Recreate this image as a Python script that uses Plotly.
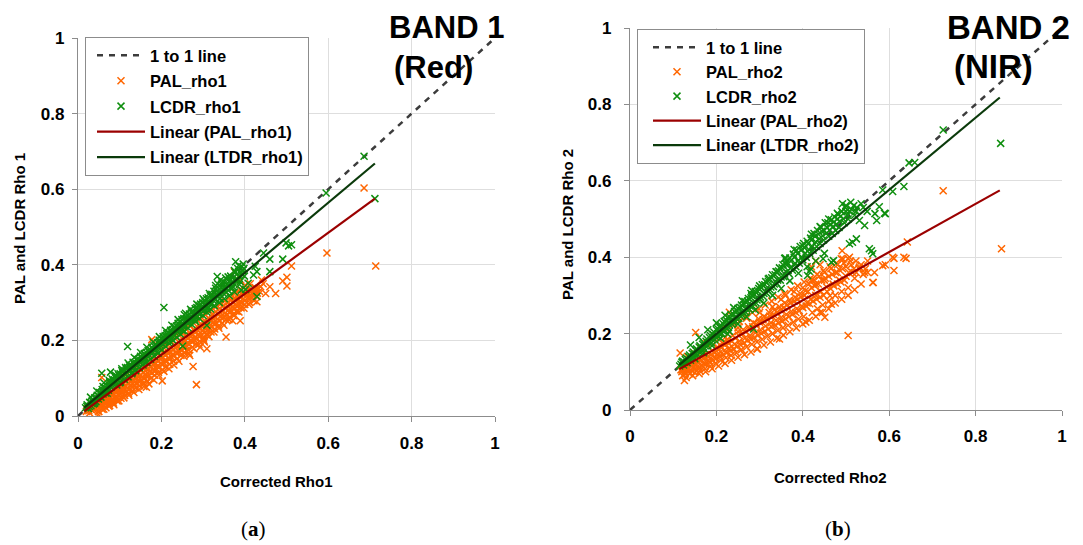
import plotly.graph_objects as go

# ---------------- values ----------------
one_to_one = [0, 1]

# panel (a) BAND 1 (Red): corrected rho1 vs PAL / LCDR rho1
pal_rho1 = [
    (0.02, 0.012), (0.024, 0.02), (0.028, 0.008), (0.031, 0.026), (0.034, 0.015), (0.037, 0.03),
    (0.04, 0.02), (0.043, 0.036), (0.046, 0.025), (0.049, 0.012), (0.052, 0.04), (0.055, 0.03),
    (0.058, 0.018), (0.061, 0.046), (0.064, 0.034), (0.067, 0.022), (0.07, 0.052), (0.073, 0.04),
    (0.076, 0.028), (0.079, 0.06), (0.082, 0.046), (0.085, 0.034), (0.088, 0.066), (0.091, 0.052),
    (0.094, 0.04), (0.097, 0.075), (0.1, 0.06), (0.103, 0.047), (0.106, 0.082), (0.109, 0.068),
    (0.112, 0.054), (0.115, 0.09), (0.118, 0.074), (0.121, 0.06), (0.124, 0.098), (0.127, 0.082),
    (0.13, 0.067), (0.133, 0.105), (0.136, 0.09), (0.139, 0.074), (0.142, 0.112), (0.145, 0.096),
    (0.148, 0.08), (0.151, 0.12), (0.154, 0.103), (0.157, 0.087), (0.16, 0.128), (0.163, 0.11),
    (0.166, 0.093), (0.169, 0.135), (0.172, 0.118), (0.175, 0.1), (0.178, 0.142), (0.181, 0.125),
    (0.184, 0.108), (0.187, 0.15), (0.19, 0.132), (0.193, 0.115), (0.196, 0.158), (0.199, 0.14),
    (0.202, 0.122), (0.205, 0.165), (0.208, 0.147), (0.211, 0.13), (0.214, 0.172), (0.217, 0.154),
    (0.22, 0.137), (0.223, 0.18), (0.226, 0.162), (0.229, 0.145), (0.232, 0.188), (0.235, 0.17),
    (0.238, 0.152), (0.241, 0.196), (0.244, 0.177), (0.247, 0.16), (0.25, 0.205), (0.253, 0.185),
    (0.256, 0.167), (0.259, 0.212), (0.262, 0.193), (0.265, 0.175), (0.268, 0.22), (0.271, 0.2),
    (0.274, 0.182), (0.277, 0.228), (0.28, 0.208), (0.283, 0.19), (0.286, 0.236), (0.289, 0.216),
    (0.292, 0.198), (0.295, 0.244), (0.298, 0.225), (0.301, 0.206), (0.304, 0.252), (0.307, 0.233),
    (0.31, 0.214), (0.313, 0.26), (0.316, 0.24), (0.319, 0.222), (0.322, 0.268), (0.325, 0.248),
    (0.328, 0.23), (0.331, 0.276), (0.334, 0.256), (0.337, 0.238), (0.34, 0.285), (0.343, 0.264),
    (0.346, 0.246), (0.349, 0.292), (0.352, 0.272), (0.355, 0.255), (0.358, 0.3), (0.361, 0.28),
    (0.364, 0.262), (0.367, 0.306), (0.37, 0.288), (0.373, 0.27), (0.376, 0.312), (0.379, 0.295),
    (0.382, 0.278), (0.385, 0.318), (0.388, 0.302), (0.391, 0.286), (0.394, 0.325), (0.397, 0.31),
    (0.4, 0.295), (0.404, 0.33), (0.408, 0.315), (0.412, 0.3), (0.416, 0.335), (0.42, 0.32),
    (0.425, 0.34), (0.43, 0.325), (0.435, 0.33),
    (0.022, 0.016), (0.026, 0.014), (0.03, 0.018), (0.033, 0.022), (0.036, 0.02), (0.039, 0.026),
    (0.042, 0.028), (0.045, 0.032), (0.048, 0.03), (0.051, 0.034), (0.054, 0.024), (0.057, 0.036),
    (0.06, 0.04), (0.063, 0.028), (0.066, 0.044), (0.069, 0.038), (0.072, 0.046), (0.075, 0.034),
    (0.078, 0.05), (0.081, 0.056), (0.084, 0.04), (0.087, 0.058), (0.09, 0.062), (0.093, 0.046),
    (0.096, 0.068), (0.099, 0.054), (0.102, 0.07), (0.105, 0.062), (0.108, 0.076), (0.111, 0.06),
    (0.114, 0.08), (0.117, 0.066), (0.12, 0.086), (0.123, 0.07), (0.126, 0.09), (0.129, 0.076),
    (0.132, 0.096), (0.135, 0.082), (0.138, 0.1), (0.141, 0.086), (0.144, 0.104), (0.147, 0.09),
    (0.15, 0.108), (0.153, 0.095), (0.156, 0.115), (0.159, 0.1), (0.162, 0.12), (0.165, 0.104),
    (0.168, 0.126), (0.171, 0.108), (0.174, 0.13), (0.177, 0.114), (0.18, 0.136), (0.183, 0.118),
    (0.186, 0.14), (0.189, 0.124), (0.192, 0.146), (0.195, 0.13), (0.198, 0.15), (0.201, 0.136),
    (0.204, 0.156), (0.207, 0.14), (0.21, 0.162), (0.213, 0.145), (0.216, 0.166), (0.219, 0.15),
    (0.222, 0.17), (0.225, 0.155), (0.228, 0.176), (0.231, 0.16), (0.234, 0.18), (0.237, 0.165),
    (0.24, 0.186), (0.243, 0.17), (0.246, 0.19), (0.249, 0.175), (0.252, 0.196), (0.255, 0.18),
    (0.258, 0.2), (0.261, 0.185), (0.264, 0.206), (0.267, 0.19), (0.27, 0.212), (0.273, 0.196),
    (0.276, 0.215), (0.279, 0.2), (0.282, 0.222), (0.285, 0.205), (0.288, 0.226), (0.291, 0.21),
    (0.294, 0.232), (0.297, 0.215), (0.3, 0.236), (0.303, 0.22), (0.306, 0.242), (0.309, 0.226),
    (0.312, 0.248), (0.315, 0.232), (0.318, 0.252), (0.321, 0.236), (0.324, 0.258), (0.327, 0.242),
    (0.33, 0.262), (0.333, 0.246), (0.336, 0.268), (0.339, 0.252), (0.342, 0.274), (0.345, 0.258),
    (0.348, 0.278), (0.351, 0.262), (0.354, 0.284), (0.357, 0.268), (0.36, 0.29), (0.363, 0.274),
    (0.366, 0.295), (0.369, 0.278), (0.372, 0.3), (0.375, 0.284), (0.378, 0.305), (0.381, 0.29),
    (0.384, 0.31), (0.387, 0.295), (0.39, 0.315), (0.393, 0.3), (0.396, 0.32), (0.4, 0.305),
    (0.406, 0.322), (0.41, 0.31), (0.414, 0.328), (0.418, 0.314), (0.423, 0.33), (0.428, 0.318),
    (0.433, 0.338), (0.438, 0.342), (0.444, 0.35),
    (0.05, 0.012), (0.053, 0.06), (0.062, 0.018), (0.065, 0.072), (0.074, 0.026), (0.077, 0.082),
    (0.086, 0.03), (0.089, 0.09), (0.098, 0.04), (0.101, 0.1), (0.11, 0.048), (0.113, 0.108),
    (0.122, 0.055), (0.125, 0.118), (0.134, 0.062), (0.137, 0.13), (0.146, 0.07), (0.149, 0.14),
    (0.158, 0.078), (0.161, 0.15), (0.17, 0.085), (0.173, 0.16), (0.182, 0.095), (0.185, 0.172),
    (0.194, 0.108), (0.197, 0.182), (0.206, 0.118), (0.209, 0.19), (0.218, 0.125), (0.221, 0.2),
    (0.23, 0.135), (0.233, 0.212), (0.242, 0.145), (0.245, 0.222), (0.254, 0.158), (0.257, 0.232),
    (0.266, 0.165), (0.269, 0.24), (0.278, 0.178), (0.281, 0.25), (0.29, 0.19), (0.293, 0.258),
    (0.302, 0.2), (0.305, 0.268), (0.314, 0.21), (0.317, 0.278), (0.326, 0.222), (0.329, 0.288),
    (0.338, 0.232), (0.341, 0.296), (0.35, 0.24), (0.353, 0.305), (0.362, 0.255), (0.365, 0.315),
    (0.374, 0.265), (0.377, 0.325), (0.386, 0.275), (0.389, 0.335), (0.398, 0.285), (0.401, 0.345),
    (0.41, 0.295), (0.413, 0.35), (0.422, 0.305), (0.44, 0.36),
    # scattered points away from the band
    (0.597, 0.431), (0.714, 0.397), (0.512, 0.397), (0.491, 0.357), (0.501, 0.367), (0.501, 0.344),
    (0.46, 0.342), (0.45, 0.324), (0.474, 0.324), (0.429, 0.302), (0.389, 0.252), (0.371, 0.252),
    (0.379, 0.277), (0.355, 0.209), (0.309, 0.178), (0.303, 0.196), (0.309, 0.218), (0.293, 0.182),
    (0.276, 0.131), (0.284, 0.083), (0.202, 0.093), (0.268, 0.16), (0.26, 0.173), (0.164, 0.076),
    (0.049, 0.004), (0.375, 0.382), (0.057, 0.102), (0.177, 0.202), (0.425, 0.335), (0.686, 0.603),
    (0.39, 0.36), (0.4, 0.345),
]

lcdr_rho1 = [
    (0.018, 0.022), (0.022, 0.03), (0.025, 0.02), (0.028, 0.036), (0.031, 0.027), (0.034, 0.04),
    (0.037, 0.032), (0.04, 0.048), (0.043, 0.038), (0.046, 0.055), (0.049, 0.045), (0.052, 0.062),
    (0.055, 0.05), (0.058, 0.07), (0.06, 0.058), (0.062, 0.088), (0.064, 0.075), (0.066, 0.061),
    (0.07, 0.08), (0.073, 0.068), (0.076, 0.09), (0.079, 0.076), (0.082, 0.098), (0.085, 0.084),
    (0.088, 0.105), (0.09, 0.092), (0.093, 0.082), (0.096, 0.112), (0.099, 0.1), (0.102, 0.09),
    (0.105, 0.12), (0.108, 0.107), (0.111, 0.097), (0.114, 0.128), (0.117, 0.115), (0.12, 0.104),
    (0.123, 0.135), (0.126, 0.122), (0.129, 0.112), (0.132, 0.142), (0.135, 0.13), (0.138, 0.12),
    (0.141, 0.15), (0.144, 0.138), (0.147, 0.128), (0.15, 0.158), (0.153, 0.145), (0.156, 0.135),
    (0.159, 0.165), (0.162, 0.152), (0.165, 0.142), (0.168, 0.173), (0.171, 0.16), (0.174, 0.15),
    (0.177, 0.182), (0.18, 0.168), (0.183, 0.158), (0.186, 0.19), (0.189, 0.177), (0.192, 0.166),
    (0.195, 0.2), (0.198, 0.186), (0.201, 0.175), (0.204, 0.21), (0.207, 0.195), (0.21, 0.184),
    (0.213, 0.218), (0.216, 0.203), (0.219, 0.192), (0.222, 0.227), (0.225, 0.212), (0.228, 0.2),
    (0.231, 0.236), (0.234, 0.22), (0.237, 0.208), (0.24, 0.245), (0.243, 0.229), (0.246, 0.216),
    (0.249, 0.255), (0.252, 0.238), (0.255, 0.225), (0.258, 0.272), (0.261, 0.247), (0.264, 0.233),
    (0.267, 0.27), (0.27, 0.255), (0.273, 0.242), (0.276, 0.278), (0.279, 0.263), (0.282, 0.25),
    (0.285, 0.287), (0.288, 0.272), (0.291, 0.258), (0.294, 0.296), (0.297, 0.28), (0.3, 0.266),
    (0.303, 0.305), (0.306, 0.29), (0.309, 0.275), (0.312, 0.313), (0.315, 0.298), (0.318, 0.283),
    (0.321, 0.322), (0.324, 0.306), (0.327, 0.292), (0.33, 0.345), (0.333, 0.33), (0.336, 0.315),
    (0.339, 0.3), (0.342, 0.36), (0.345, 0.34), (0.348, 0.325), (0.351, 0.31), (0.354, 0.365),
    (0.357, 0.348), (0.36, 0.333), (0.363, 0.318), (0.366, 0.37), (0.369, 0.355), (0.372, 0.342),
    (0.375, 0.328), (0.378, 0.408), (0.381, 0.375), (0.384, 0.36), (0.387, 0.348), (0.39, 0.38),
    (0.393, 0.395), (0.396, 0.402), (0.399, 0.37), (0.402, 0.335),
    (0.021, 0.026), (0.027, 0.025), (0.033, 0.033), (0.039, 0.04), (0.045, 0.047), (0.05, 0.052),
    (0.056, 0.06), (0.059, 0.064), (0.063, 0.068), (0.068, 0.072), (0.071, 0.078), (0.075, 0.082),
    (0.078, 0.086), (0.081, 0.09), (0.084, 0.093), (0.087, 0.096), (0.091, 0.1), (0.095, 0.104),
    (0.098, 0.108), (0.101, 0.112), (0.104, 0.104), (0.107, 0.116), (0.11, 0.12), (0.113, 0.112),
    (0.116, 0.124), (0.119, 0.128), (0.122, 0.12), (0.125, 0.13), (0.128, 0.134), (0.131, 0.126),
    (0.134, 0.138), (0.137, 0.142), (0.14, 0.134), (0.143, 0.146), (0.146, 0.15), (0.149, 0.142),
    (0.152, 0.155), (0.155, 0.16), (0.158, 0.15), (0.161, 0.162), (0.164, 0.168), (0.167, 0.158),
    (0.17, 0.17), (0.173, 0.176), (0.176, 0.166), (0.179, 0.178), (0.182, 0.186), (0.185, 0.174),
    (0.188, 0.186), (0.191, 0.194), (0.194, 0.182), (0.197, 0.193), (0.2, 0.203), (0.203, 0.19),
    (0.206, 0.202), (0.209, 0.212), (0.212, 0.198), (0.215, 0.21), (0.218, 0.22), (0.221, 0.206),
    (0.224, 0.22), (0.227, 0.228), (0.23, 0.214), (0.233, 0.228), (0.236, 0.238), (0.239, 0.222),
    (0.242, 0.236), (0.245, 0.248), (0.248, 0.23), (0.251, 0.246), (0.254, 0.258), (0.257, 0.238),
    (0.26, 0.255), (0.263, 0.266), (0.266, 0.246), (0.269, 0.262), (0.272, 0.275), (0.275, 0.255),
    (0.278, 0.27), (0.281, 0.284), (0.284, 0.262), (0.287, 0.28), (0.29, 0.292), (0.293, 0.27),
    (0.296, 0.288), (0.299, 0.3), (0.302, 0.278), (0.305, 0.296), (0.308, 0.31), (0.311, 0.288),
    (0.314, 0.305), (0.317, 0.318), (0.32, 0.296), (0.323, 0.314), (0.326, 0.33), (0.329, 0.31),
    (0.332, 0.32), (0.335, 0.35), (0.338, 0.325), (0.341, 0.31), (0.344, 0.348), (0.347, 0.335),
    (0.35, 0.355), (0.353, 0.34), (0.356, 0.328), (0.359, 0.36), (0.362, 0.345), (0.365, 0.36),
    (0.368, 0.34), (0.371, 0.365), (0.374, 0.35), (0.377, 0.38), (0.38, 0.36), (0.383, 0.39),
    (0.386, 0.37), (0.389, 0.355), (0.392, 0.375), (0.395, 0.385), (0.398, 0.39),
    (0.03, 0.05), (0.045, 0.066), (0.06, 0.078), (0.075, 0.094), (0.09, 0.108), (0.105, 0.125),
    (0.12, 0.14), (0.135, 0.155), (0.15, 0.168), (0.165, 0.182), (0.18, 0.196), (0.195, 0.21),
    (0.21, 0.226), (0.225, 0.24), (0.24, 0.255), (0.255, 0.268), (0.27, 0.282), (0.285, 0.296),
    (0.3, 0.31), (0.315, 0.324), (0.33, 0.338), (0.345, 0.352), (0.36, 0.368), (0.375, 0.385),
    (0.385, 0.398), (0.04, 0.034), (0.07, 0.06), (0.1, 0.088), (0.13, 0.115), (0.16, 0.142),
    (0.19, 0.17), (0.22, 0.198), (0.25, 0.226), (0.28, 0.255), (0.31, 0.282), (0.34, 0.31),
    (0.37, 0.338),
    # scattered points away from the band
    (0.425, 0.396), (0.429, 0.382), (0.421, 0.373), (0.445, 0.431), (0.46, 0.415), (0.491, 0.415),
    (0.499, 0.458), (0.512, 0.453), (0.505, 0.45), (0.46, 0.382), (0.429, 0.316), (0.408, 0.351),
    (0.251, 0.185), (0.206, 0.287), (0.119, 0.184), (0.057, 0.113), (0.078, 0.116), (0.334, 0.369),
    (0.309, 0.24), (0.392, 0.333), (0.595, 0.59), (0.686, 0.687), (0.712, 0.575),
]

fit_pal_rho1_x = [0.015, 0.712]
fit_pal_rho1_y = [0.013, 0.575]
fit_ltdr_rho1_x = [0.015, 0.712]
fit_ltdr_rho1_y = [0.022, 0.668]

# panel (b) BAND 2 (NIR)
pal_rho2 = [
    (0.118, 0.105), (0.122, 0.112), (0.126, 0.1), (0.13, 0.118), (0.134, 0.106), (0.138, 0.095),
    (0.142, 0.124), (0.146, 0.11), (0.15, 0.098), (0.154, 0.13), (0.158, 0.116), (0.162, 0.102),
    (0.166, 0.138), (0.17, 0.122), (0.174, 0.108), (0.178, 0.145), (0.182, 0.13), (0.186, 0.115),
    (0.19, 0.155), (0.194, 0.138), (0.198, 0.122), (0.202, 0.165), (0.206, 0.148), (0.21, 0.13),
    (0.214, 0.175), (0.218, 0.155), (0.222, 0.137), (0.226, 0.185), (0.23, 0.162), (0.234, 0.143),
    (0.238, 0.195), (0.242, 0.172), (0.246, 0.15), (0.25, 0.205), (0.254, 0.18), (0.258, 0.158),
    (0.262, 0.21), (0.266, 0.188), (0.27, 0.165), (0.274, 0.218), (0.278, 0.195), (0.282, 0.172),
    (0.286, 0.228), (0.29, 0.202), (0.294, 0.178), (0.298, 0.238), (0.302, 0.21), (0.306, 0.185),
    (0.31, 0.245), (0.314, 0.22), (0.318, 0.193), (0.322, 0.255), (0.326, 0.228), (0.33, 0.2),
    (0.334, 0.262), (0.338, 0.235), (0.342, 0.208), (0.346, 0.27), (0.35, 0.242), (0.354, 0.215),
    (0.358, 0.28), (0.362, 0.25), (0.366, 0.222), (0.37, 0.288), (0.374, 0.258), (0.378, 0.23),
    (0.382, 0.295), (0.386, 0.265), (0.39, 0.238), (0.394, 0.305), (0.398, 0.272), (0.402, 0.245),
    (0.406, 0.312), (0.41, 0.28), (0.414, 0.33), (0.418, 0.29), (0.422, 0.255), (0.426, 0.34),
    (0.43, 0.3), (0.434, 0.265), (0.438, 0.35), (0.442, 0.31), (0.446, 0.275), (0.45, 0.36),
    (0.455, 0.322), (0.46, 0.285), (0.465, 0.37), (0.47, 0.33), (0.475, 0.3), (0.48, 0.38),
    (0.485, 0.34), (0.49, 0.31), (0.495, 0.385), (0.5, 0.35), (0.505, 0.32), (0.51, 0.39),
    (0.515, 0.36), (0.52, 0.345), (0.53, 0.37), (0.54, 0.355), (0.43, 0.39), (0.42, 0.375),
    (0.44, 0.38),
    (0.12, 0.1), (0.124, 0.108), (0.128, 0.095), (0.132, 0.112), (0.136, 0.1), (0.14, 0.118),
    (0.144, 0.102), (0.148, 0.12), (0.152, 0.108), (0.156, 0.125), (0.16, 0.11), (0.164, 0.13),
    (0.168, 0.115), (0.172, 0.135), (0.176, 0.12), (0.18, 0.14), (0.184, 0.125), (0.188, 0.145),
    (0.192, 0.13), (0.196, 0.15), (0.2, 0.135), (0.204, 0.158), (0.208, 0.14), (0.212, 0.165),
    (0.216, 0.145), (0.22, 0.17), (0.224, 0.15), (0.228, 0.175), (0.232, 0.155), (0.236, 0.18),
    (0.24, 0.16), (0.244, 0.188), (0.248, 0.166), (0.252, 0.195), (0.256, 0.17), (0.26, 0.2),
    (0.264, 0.176), (0.268, 0.205), (0.272, 0.182), (0.276, 0.212), (0.28, 0.186), (0.284, 0.218),
    (0.288, 0.19), (0.292, 0.225), (0.296, 0.196), (0.3, 0.23), (0.304, 0.2), (0.308, 0.236),
    (0.312, 0.206), (0.316, 0.24), (0.32, 0.212), (0.324, 0.246), (0.328, 0.218), (0.332, 0.25),
    (0.336, 0.222), (0.34, 0.256), (0.344, 0.228), (0.348, 0.262), (0.352, 0.232), (0.356, 0.268),
    (0.36, 0.238), (0.364, 0.275), (0.368, 0.244), (0.372, 0.28), (0.376, 0.25), (0.38, 0.285),
    (0.384, 0.255), (0.388, 0.29), (0.392, 0.26), (0.396, 0.296), (0.4, 0.268), (0.404, 0.3),
    (0.408, 0.272), (0.412, 0.31), (0.416, 0.278), (0.42, 0.32), (0.424, 0.285), (0.428, 0.325),
    (0.432, 0.29), (0.436, 0.33), (0.44, 0.295), (0.444, 0.34), (0.448, 0.3), (0.452, 0.345),
    (0.456, 0.31), (0.46, 0.35), (0.464, 0.318), (0.468, 0.355), (0.472, 0.325), (0.476, 0.36),
    (0.48, 0.33), (0.484, 0.368), (0.488, 0.335), (0.492, 0.37), (0.496, 0.34), (0.5, 0.375),
    (0.506, 0.36), (0.512, 0.38), (0.518, 0.37), (0.524, 0.36), (0.535, 0.38), (0.545, 0.37),
    (0.55, 0.39),
    (0.13, 0.085), (0.133, 0.14), (0.145, 0.09), (0.148, 0.15), (0.16, 0.095), (0.163, 0.162),
    (0.175, 0.1), (0.178, 0.175), (0.19, 0.108), (0.193, 0.188), (0.205, 0.115), (0.208, 0.2),
    (0.22, 0.122), (0.223, 0.212), (0.235, 0.13), (0.238, 0.222), (0.25, 0.138), (0.253, 0.232),
    (0.265, 0.145), (0.268, 0.245), (0.28, 0.152), (0.283, 0.255), (0.295, 0.16), (0.298, 0.265),
    (0.31, 0.17), (0.313, 0.275), (0.325, 0.178), (0.328, 0.285), (0.34, 0.188), (0.343, 0.295),
    (0.355, 0.196), (0.358, 0.305), (0.37, 0.205), (0.373, 0.315), (0.385, 0.215), (0.388, 0.325),
    (0.4, 0.225), (0.403, 0.335), (0.415, 0.235), (0.418, 0.345), (0.43, 0.245), (0.433, 0.355),
    (0.445, 0.255), (0.448, 0.365), (0.46, 0.265), (0.463, 0.375), (0.475, 0.28), (0.478, 0.385),
    (0.49, 0.29), (0.493, 0.395), (0.505, 0.3), (0.508, 0.4), (0.52, 0.315), (0.523, 0.39),
    (0.535, 0.33), (0.55, 0.36), (0.2, 0.18), (0.25, 0.215), (0.3, 0.255), (0.35, 0.29),
    (0.4, 0.32), (0.45, 0.34), (0.27, 0.24), (0.33, 0.27), (0.38, 0.31), (0.43, 0.33),
    (0.48, 0.36), (0.22, 0.19), (0.17, 0.16), (0.36, 0.3), (0.42, 0.34),
    # scattered points away from the band
    (0.116, 0.149), (0.152, 0.203), (0.23, 0.256), (0.126, 0.077), (0.122, 0.09), (0.505, 0.195),
    (0.611, 0.397), (0.639, 0.397), (0.611, 0.365), (0.591, 0.38), (0.563, 0.334), (0.491, 0.417),
    (0.451, 0.243), (0.346, 0.186), (0.407, 0.23), (0.294, 0.16), (0.642, 0.44), (0.608, 0.4),
    (0.634, 0.4), (0.585, 0.378), (0.566, 0.36), (0.562, 0.334), (0.489, 0.396), (0.505, 0.396),
    (0.531, 0.374), (0.543, 0.36), (0.463, 0.299), (0.466, 0.277), (0.44, 0.255), (0.725, 0.574),
    (0.86, 0.422),
]

lcdr_rho2 = [
    (0.115, 0.115), (0.12, 0.125), (0.124, 0.118), (0.128, 0.132), (0.132, 0.124), (0.136, 0.14),
    (0.14, 0.13), (0.144, 0.148), (0.148, 0.138), (0.152, 0.156), (0.156, 0.145), (0.16, 0.165),
    (0.164, 0.152), (0.168, 0.172), (0.172, 0.16), (0.176, 0.18), (0.18, 0.168), (0.184, 0.19),
    (0.188, 0.176), (0.192, 0.198), (0.196, 0.184), (0.2, 0.21), (0.204, 0.192), (0.208, 0.216),
    (0.212, 0.2), (0.216, 0.225), (0.22, 0.208), (0.224, 0.234), (0.228, 0.216), (0.232, 0.242),
    (0.236, 0.225), (0.24, 0.25), (0.244, 0.232), (0.248, 0.26), (0.252, 0.24), (0.256, 0.268),
    (0.26, 0.248), (0.264, 0.276), (0.268, 0.256), (0.272, 0.285), (0.276, 0.264), (0.28, 0.294),
    (0.284, 0.272), (0.288, 0.302), (0.292, 0.28), (0.296, 0.31), (0.3, 0.289), (0.304, 0.32),
    (0.308, 0.298), (0.312, 0.328), (0.316, 0.306), (0.32, 0.337), (0.324, 0.315), (0.328, 0.346),
    (0.332, 0.323), (0.336, 0.354), (0.34, 0.332), (0.344, 0.364), (0.348, 0.34), (0.352, 0.372),
    (0.356, 0.349), (0.36, 0.398), (0.364, 0.38), (0.368, 0.357), (0.372, 0.39), (0.376, 0.366),
    (0.38, 0.4), (0.384, 0.375), (0.388, 0.41), (0.392, 0.384), (0.396, 0.418), (0.4, 0.393),
    (0.404, 0.425), (0.408, 0.4), (0.412, 0.435), (0.416, 0.41), (0.42, 0.445), (0.424, 0.418),
    (0.428, 0.455), (0.432, 0.428), (0.436, 0.46), (0.44, 0.436), (0.444, 0.468), (0.448, 0.445),
    (0.452, 0.49), (0.456, 0.478), (0.46, 0.455), (0.464, 0.485), (0.468, 0.462), (0.472, 0.492),
    (0.476, 0.47), (0.48, 0.5), (0.484, 0.478), (0.488, 0.508), (0.492, 0.54), (0.496, 0.49),
    (0.5, 0.52), (0.505, 0.5), (0.511, 0.544), (0.52, 0.51), (0.525, 0.53),
    (0.118, 0.12), (0.122, 0.128), (0.126, 0.125), (0.13, 0.136), (0.134, 0.132), (0.138, 0.144),
    (0.142, 0.138), (0.146, 0.152), (0.15, 0.146), (0.154, 0.16), (0.158, 0.154), (0.162, 0.168),
    (0.166, 0.16), (0.17, 0.176), (0.174, 0.168), (0.178, 0.186), (0.182, 0.176), (0.186, 0.195),
    (0.19, 0.184), (0.194, 0.204), (0.198, 0.192), (0.202, 0.214), (0.206, 0.2), (0.21, 0.222),
    (0.214, 0.208), (0.218, 0.232), (0.222, 0.216), (0.226, 0.242), (0.23, 0.224), (0.234, 0.25),
    (0.238, 0.232), (0.242, 0.258), (0.246, 0.24), (0.25, 0.266), (0.254, 0.248), (0.258, 0.275),
    (0.262, 0.256), (0.266, 0.284), (0.27, 0.264), (0.274, 0.292), (0.278, 0.272), (0.282, 0.3),
    (0.286, 0.28), (0.29, 0.31), (0.294, 0.288), (0.298, 0.318), (0.302, 0.296), (0.306, 0.328),
    (0.31, 0.305), (0.314, 0.336), (0.318, 0.314), (0.322, 0.345), (0.326, 0.322), (0.33, 0.354),
    (0.334, 0.33), (0.338, 0.362), (0.342, 0.34), (0.346, 0.372), (0.35, 0.348), (0.354, 0.38),
    (0.358, 0.356), (0.362, 0.388), (0.366, 0.365), (0.37, 0.398), (0.374, 0.374), (0.378, 0.408),
    (0.382, 0.384), (0.386, 0.418), (0.39, 0.392), (0.394, 0.428), (0.398, 0.4), (0.402, 0.436),
    (0.406, 0.41), (0.41, 0.442), (0.414, 0.42), (0.418, 0.45), (0.422, 0.428), (0.426, 0.462),
    (0.43, 0.44), (0.434, 0.47), (0.438, 0.448), (0.442, 0.478), (0.446, 0.456), (0.45, 0.47),
    (0.454, 0.462), (0.458, 0.49), (0.462, 0.47), (0.466, 0.498), (0.47, 0.48), (0.474, 0.505),
    (0.478, 0.486), (0.482, 0.512), (0.486, 0.494), (0.49, 0.52), (0.494, 0.5), (0.498, 0.53),
    (0.503, 0.51), (0.508, 0.52), (0.513, 0.525), (0.518, 0.535), (0.523, 0.52), (0.535, 0.54),
    (0.54, 0.53),
    (0.14, 0.17), (0.16, 0.19), (0.18, 0.21), (0.2, 0.228), (0.22, 0.248), (0.24, 0.268),
    (0.26, 0.286), (0.28, 0.305), (0.3, 0.325), (0.32, 0.343), (0.34, 0.362), (0.36, 0.382),
    (0.38, 0.42), (0.4, 0.43), (0.42, 0.46), (0.44, 0.48), (0.46, 0.5), (0.48, 0.515),
    (0.5, 0.535), (0.15, 0.134), (0.17, 0.15), (0.19, 0.168), (0.21, 0.188), (0.23, 0.206),
    (0.25, 0.225), (0.27, 0.244), (0.29, 0.262), (0.31, 0.28), (0.33, 0.3), (0.35, 0.318),
    (0.37, 0.338), (0.39, 0.358), (0.41, 0.375), (0.43, 0.39), (0.45, 0.41),
    # scattered points away from the band
    (0.515, 0.439), (0.531, 0.496), (0.543, 0.483), (0.549, 0.52), (0.559, 0.417), (0.567, 0.514),
    (0.571, 0.496), (0.577, 0.532), (0.585, 0.576), (0.589, 0.515), (0.591, 0.514), (0.608, 0.572),
    (0.634, 0.585), (0.646, 0.647), (0.659, 0.648), (0.725, 0.733), (0.858, 0.698),
    (0.471, 0.391), (0.447, 0.396), (0.419, 0.369), (0.411, 0.352), (0.415, 0.363), (0.358, 0.397),
    (0.282, 0.313), (0.286, 0.212), (0.226, 0.199), (0.554, 0.422), (0.562, 0.409), (0.466, 0.387),
    (0.524, 0.448), (0.508, 0.435),
]

fit_pal_rho2_x = [0.114, 0.856]
fit_pal_rho2_y = [0.107, 0.575]
fit_ltdr_rho2_x = [0.114, 0.856]
fit_ltdr_rho2_y = [0.118, 0.818]

tick_vals = [0, 0.2, 0.4, 0.6, 0.8, 1]
tick_text = ["0", "0.2", "0.4", "0.6", "0.8", "1"]

# ---------------- styling ----------------
FONT = "Liberation Sans, Arial, sans-serif"
ORANGE = "#ff6600"
GREEN = "#0f8f0f"
DARK_RED = "#9b0000"
DARK_GREEN = "#0b3a0b"
GRID = "#dedede"
AXIS = "#8c8c8c"

# the page keeps its 8px body margin at top/left, so the figure starts at
# (8, 8) in the window and runs to the window's right and bottom edges;
# positions below are given in window pixels
OFF = 8
W, H = 1083 - OFF, 545 - OFF


def px(x):
    return (x - OFF) / W


def py(y):
    return 1 - (y - OFF) / H


def panel(pts_pal, pts_lcdr, fit_pal, fit_ltdr, names, xa, ya, legend):
    mk = dict(symbol="x-thin", size=7)
    traces = [
        go.Scatter(x=one_to_one, y=one_to_one, mode="lines", name="1 to 1 line",
                   line=dict(color="#3c3c3c", width=2.5, dash="6px,6px"),
                   xaxis=xa, yaxis=ya, legend=legend, legendgroup=legend + "a", legendrank=1),
        go.Scatter(x=[p[0] for p in pts_pal], y=[p[1] for p in pts_pal], mode="markers", name=names[0],
                   marker=dict(mk, color=ORANGE, line=dict(color=ORANGE, width=1.5)),
                   xaxis=xa, yaxis=ya, legend=legend, legendgroup=legend + "b", legendrank=2),
        go.Scatter(x=[p[0] for p in pts_lcdr], y=[p[1] for p in pts_lcdr], mode="markers", name=names[1],
                   marker=dict(mk, color=GREEN, line=dict(color=GREEN, width=1.5)),
                   xaxis=xa, yaxis=ya, legend=legend, legendgroup=legend + "c", legendrank=3),
        go.Scatter(x=fit_pal[0], y=fit_pal[1], mode="lines", name=names[2],
                   line=dict(color=DARK_RED, width=2.2),
                   xaxis=xa, yaxis=ya, legend=legend, legendgroup=legend + "d", legendrank=4),
        go.Scatter(x=fit_ltdr[0], y=fit_ltdr[1], mode="lines", name=names[3],
                   line=dict(color=DARK_GREEN, width=2.2),
                   xaxis=xa, yaxis=ya, legend=legend, legendgroup=legend + "e", legendrank=5),
    ]
    return traces


data = panel(pal_rho1, lcdr_rho1, (fit_pal_rho1_x, fit_pal_rho1_y), (fit_ltdr_rho1_x, fit_ltdr_rho1_y),
             ["PAL_rho1", "LCDR_rho1", "Linear (PAL_rho1)", "Linear (LTDR_rho1)"], "x", "y", "legend")
data += panel(pal_rho2, lcdr_rho2, (fit_pal_rho2_x, fit_pal_rho2_y), (fit_ltdr_rho2_x, fit_ltdr_rho2_y),
              ["PAL_rho2", "LCDR_rho2", "Linear (PAL_rho2)", "Linear (LTDR_rho2)"], "x2", "y2", "legend2")

fig = go.Figure(data=data)


def axis(domain, anchor, size, standoff):
    return dict(domain=domain, anchor=anchor, range=[0, 1], tickvals=tick_vals, ticktext=tick_text,
                showgrid=True, gridcolor=GRID, gridwidth=1, zeroline=False,
                showline=True, linecolor=AXIS, linewidth=1.2, automargin=False,
                ticks="outside", ticklen=5, tickcolor=AXIS, ticklabelstandoff=standoff,
                tickfont=dict(family=FONT, size=size, color="black", weight="bold"),
                fixedrange=True)


fig.update_layout(
    width=W, height=H, margin=dict(l=0, r=0, t=0, b=0, pad=0, autoexpand=False),
    paper_bgcolor="white", plot_bgcolor="white", showlegend=True,
    xaxis=axis([px(78), px(495)], "y", 17, 6),
    yaxis=axis([py(416), py(38)], "x", 17, 4),
    xaxis2=axis([px(630), px(1062)], "y2", 17, 5),
    yaxis2=axis([py(410), py(28)], "x2", 17, 9),
    legend=dict(x=px(85), y=py(37), xanchor="left", yanchor="top", bgcolor="white",
                bordercolor=AXIS, borderwidth=1, itemwidth=48, tracegroupgap=1, indentation=6,
                font=dict(family=FONT, size=16.5, color="black", weight="bold")),
    legend2=dict(x=px(637), y=py(29), xanchor="left", yanchor="top", bgcolor="white",
                 bordercolor=AXIS, borderwidth=1, itemwidth=48, tracegroupgap=0, indentation=10,
                 font=dict(family=FONT, size=16.5, color="black", weight="bold")),
)

big = dict(family=FONT, size=31, color="black", weight="bold")
big2 = dict(family=FONT, size=33, color="black", weight="bold")
lab = dict(family=FONT, size=15, color="black", weight="bold")
cap = dict(family="Liberation Serif, Times New Roman, serif", size=21, color="black")
notes = [
    dict(text="BAND 1", x=387, y=28, font=big, xanchor="left"),
    dict(text="(Red)", x=392, y=68, font=big, xanchor="left"),
    dict(text="BAND 2", x=945, y=28, font=big2, xanchor="left"),
    dict(text="(NIR)", x=952, y=66, font=big2, xanchor="left"),
    dict(text="Corrected Rho1", x=276, y=481, font=lab),
    dict(text="Corrected Rho2", x=830, y=477, font=lab),
    dict(text="PAL and LCDR Rho 1", x=20, y=229, font=lab, textangle=-90),
    dict(text="PAL and LCDR Rho 2", x=568, y=225, font=lab, textangle=-90),
    dict(text="(<b>a</b>)", x=253, y=529, font=cap),
    dict(text="(<b>b</b>)", x=838, y=529, font=cap),
]
for n in notes:
    fig.add_annotation(text=n["text"], x=px(n["x"]), y=py(n["y"]), xref="paper", yref="paper",
                       showarrow=False, font=n["font"], xanchor=n.get("xanchor", "center"),
                       yanchor="middle", textangle=n.get("textangle", 0))

fig.write_html("out.html")
